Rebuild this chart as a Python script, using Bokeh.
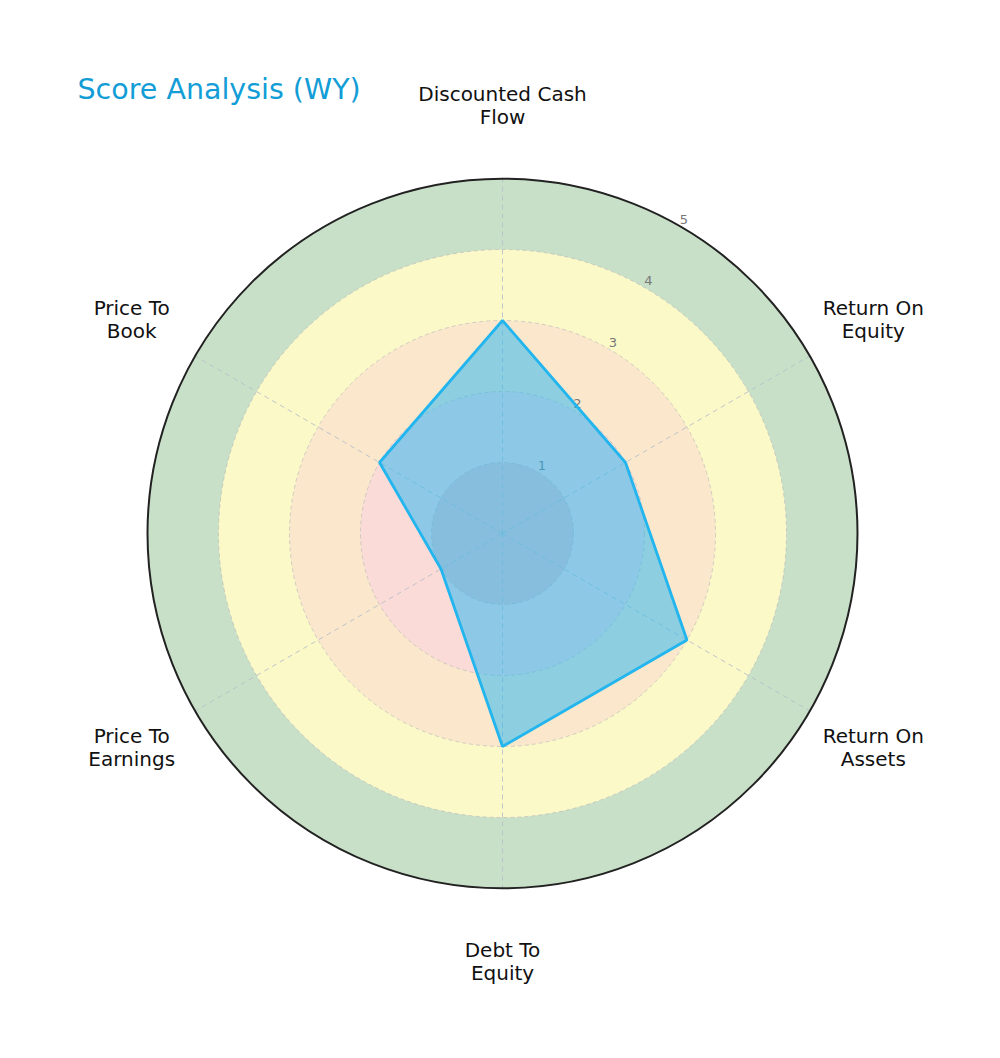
import numpy as np
from bokeh.plotting import figure
from bokeh.models import Range1d, Label
from bokeh.embed import file_html
from bokeh.resources import INLINE
from bokeh.core.properties import value

# ---- data ----
categories = ["Discounted Cash\nFlow", "Return On\nEquity", "Return On\nAssets",
              "Debt To\nEquity", "Price To\nEarnings", "Price To\nBook"]
scores = [3, 2, 3, 3, 1, 2]
ring_levels = [1, 2, 3, 4, 5]
ring_colors = ["#efc3c4", "#fadbd8", "#fae7cc", "#fcf9c9", "#c9e0c8"]
tick_labels = ["1", "2", "3", "4", "5"]
title_text = "Score Analysis (WY)"

# ---- layout ----
W, H = 984, 1042
ppu = 71.0               # pixels per unit
cx_px, cy_px = 502, 533  # centre in figure pixels (from top-left)

p = figure(width=W, height=H, output_backend="svg", toolbar_location=None,
           x_range=Range1d(-cx_px / ppu, (W - cx_px) / ppu),
           y_range=Range1d(-(H - cy_px) / ppu, cy_px / ppu),
           min_border=0, match_aspect=False)
p.axis.visible = False
p.grid.visible = False
p.outline_line_color = None
p.background_fill_color = "white"
p.border_fill_color = "white"

n = len(categories)
angles = np.pi / 2 - np.arange(n) * 2 * np.pi / n
rmax = max(ring_levels)

# coloured rings (largest first)
for r, c in sorted(zip(ring_levels, ring_colors), reverse=True):
    p.circle(x=[0], y=[0], radius=r, fill_color=c, line_color=None)

# dashed grid circles
for r in ring_levels[:-1]:
    p.circle(x=[0], y=[0], radius=r, fill_color=None, line_color="#b8b8b8",
             line_dash="4 3", line_width=0.8, line_alpha=0.8)

# spokes
p.segment(x0=[0] * n, y0=[0] * n, x1=list(rmax * np.cos(angles)), y1=list(rmax * np.sin(angles)),
          line_color="#b8c0c8", line_dash="5 4", line_width=0.9)

# outer circle
p.circle(x=[0], y=[0], radius=rmax, fill_color=None, line_color="#222222", line_width=2)

# radial tick labels at 60 deg
ta = np.deg2rad(60)
tr = np.array(ring_levels, dtype=float) + 0.11
p.text(x=list(tr * np.cos(ta)), y=list(tr * np.sin(ta)), text=tick_labels,
       text_font=value("DejaVu Sans"), text_font_size="13px", text_color="#777777",
       text_align="center", text_baseline="middle")

# score polygon
sc = np.array(scores, dtype=float)
xs = list(sc * np.cos(angles)) + [sc[0] * np.cos(angles[0])]
ys = list(sc * np.sin(angles)) + [sc[0] * np.sin(angles[0])]
p.patch(xs, ys, fill_color="#1fb8f5", fill_alpha=0.5, line_color="#22b5ee", line_width=2.8)

# category labels (one text per line)
lr = 6.03
line_gap = 23.0 / ppu
lx, ly, lt = [], [], []
for a, cat in zip(angles, categories):
    parts = cat.split("\n")
    k = len(parts)
    for j, s in enumerate(parts):
        off = ((k - 1) / 2.0 - j) * line_gap
        lx.append(lr * np.cos(a))
        ly.append(lr * np.sin(a) + off)
        lt.append(s)
p.text(x=lx, y=ly, text=lt,
       text_font=value("DejaVu Sans"), text_font_size="20px", text_color="#111111",
       text_align="center", text_baseline="middle")

# title
p.add_layout(Label(x=77, y=H - 89, x_units="screen", y_units="screen", text=title_text,
                   text_font="DejaVu Sans", text_font_size="28.5px", text_color="#129dd6",
                   text_baseline="middle", text_align="left"))

open("out.html", "w").write(file_html(p, INLINE))
